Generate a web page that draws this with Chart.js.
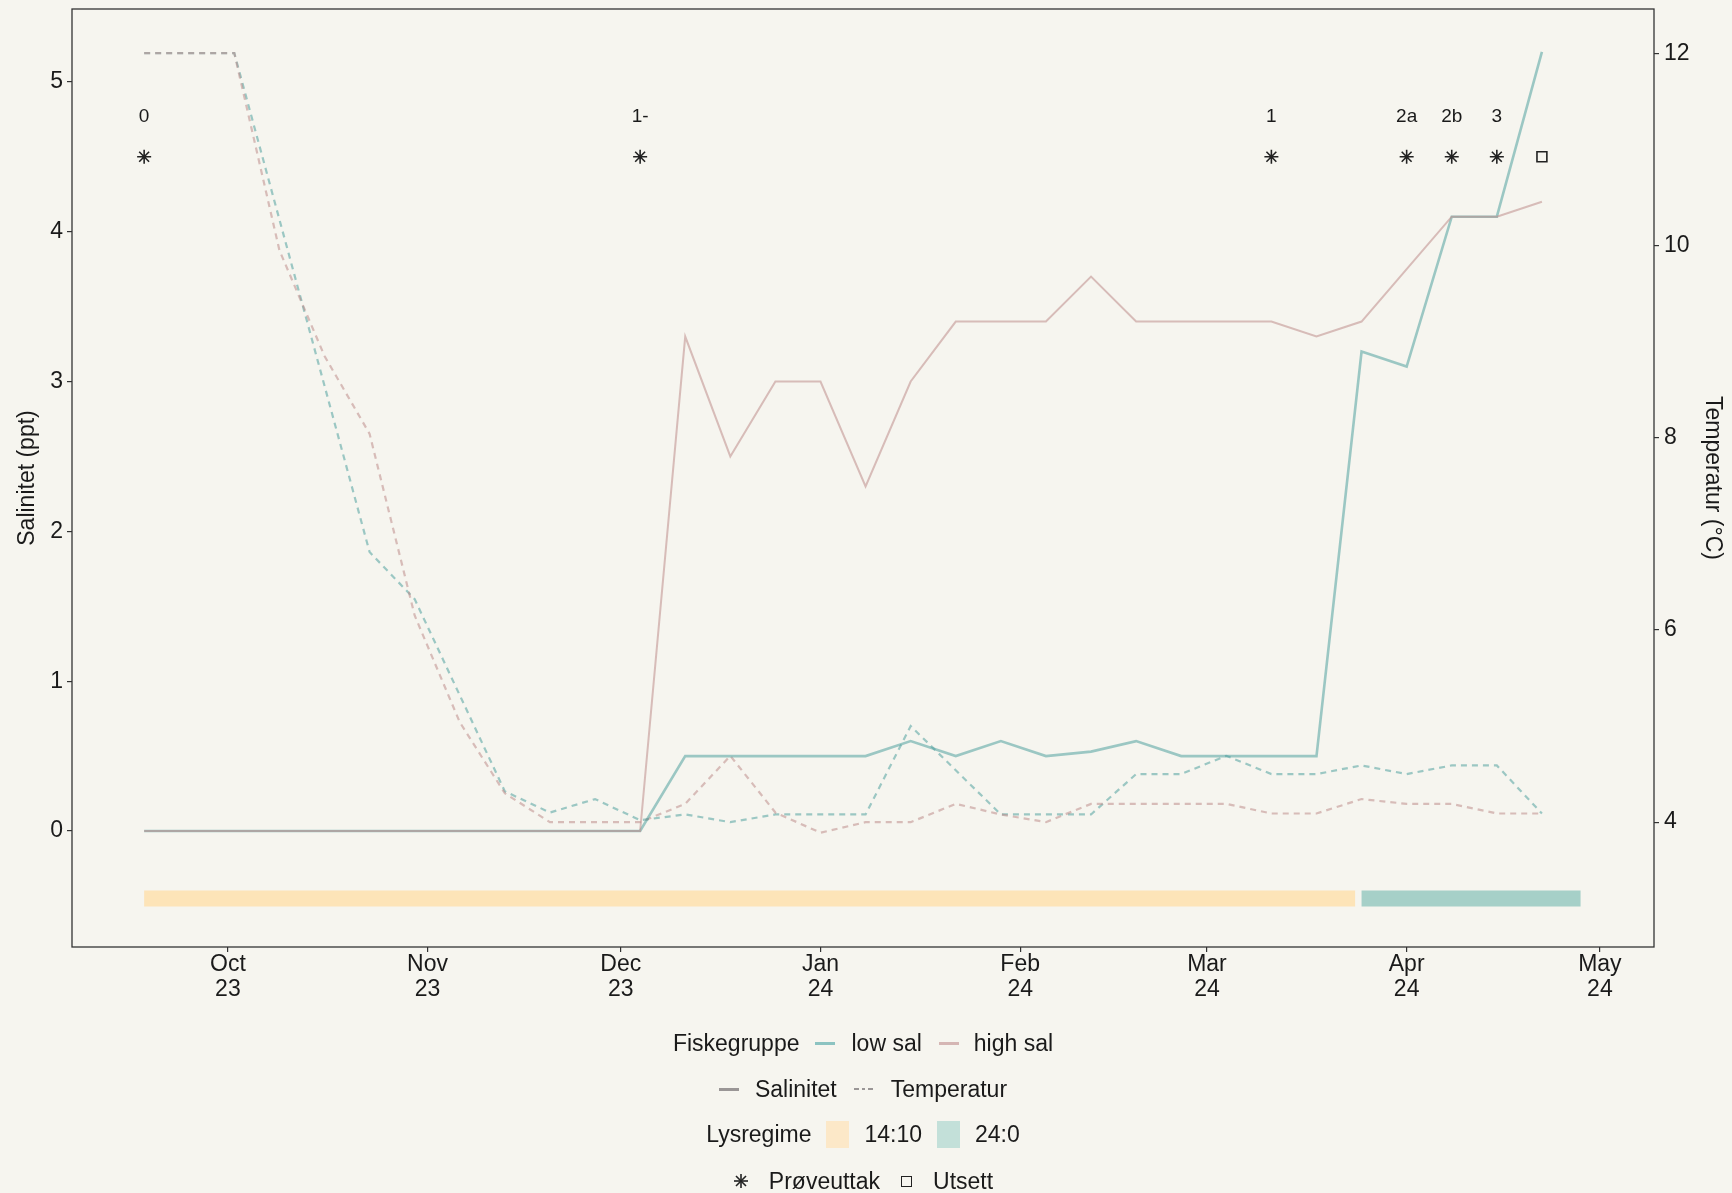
<!DOCTYPE html>
<html>
<head>
<meta charset="utf-8">
<script src="https://cdn.jsdelivr.net/npm/chart.js@4.4.1/dist/chart.umd.min.js"></script>
<style>
html,body{margin:0;padding:0;background:#f6f5ef;}
#wrap{position:relative;width:1732px;height:1193px;overflow:hidden;}
#chart{position:absolute;left:0;top:0;}
.legend{position:absolute;left:-3px;width:1732px;font-family:"Liberation Sans",Arial,Helvetica,sans-serif;font-size:23px;color:#1a1a1a;}
.row{position:absolute;left:0;width:100%;height:30px;line-height:30px;display:flex;justify-content:center;align-items:center;white-space:nowrap;}
.ln{display:inline-block;width:20px;height:3px;}
.box{display:inline-block;width:23px;height:27px;}
.sq{display:inline-block;width:9px;height:9px;border:1.6px solid #222;}
</style>
</head>
<body>
<div id="wrap">
<canvas id="chart" width="1732" height="1193"></canvas>
<div class="legend">
  <div class="row" style="top:1028px">
    <span style="margin-right:16px">Fiskegruppe</span>
    <span class="ln" style="background:#8cc3c1;margin-right:16px"></span>
    <span style="margin-right:17px">low sal</span>
    <span class="ln" style="background:#d5b6b4;margin-right:15px"></span>
    <span>high sal</span>
  </div>
  <div class="row" style="top:1074px">
    <span class="ln" style="background:#9a9696;margin-right:16px"></span>
    <span style="margin-right:17px">Salinitet</span>
    <svg width="21" height="6" style="margin-right:16px"><line x1="0" y1="3" x2="21" y2="3" stroke="#9a9696" stroke-width="2.2" stroke-dasharray="5,3,3,3"/></svg>
    <span>Temperatur</span>
  </div>
  <div class="row" style="top:1119px">
    <span style="margin-right:15px">Lysregime</span>
    <span class="box" style="background:#fce8c8;margin-right:15px"></span>
    <span style="margin-right:15px">14:10</span>
    <span class="box" style="background:#c3e0d9;margin-right:15px"></span>
    <span>24:0</span>
  </div>
  <div class="row" style="top:1166px">
    <svg width="16" height="16" style="margin-right:20px"><g stroke="#222" stroke-width="1.6"><line x1="8" y1="1" x2="8" y2="15"/><line x1="1" y1="8" x2="15" y2="8"/><line x1="3" y1="3" x2="13" y2="13"/><line x1="13" y1="3" x2="3" y2="13"/></g></svg>
    <span style="margin-right:21px">Prøveuttak</span>
    <span class="sq" style="margin-right:21px"></span>
    <span>Utsett</span>
  </div>
</div>
</div>
<script>
// ---- data ----
const weekDates = ['2023-09-18','2023-09-25','2023-10-02','2023-10-09','2023-10-16','2023-10-23','2023-10-30',
  '2023-11-06','2023-11-13','2023-11-20','2023-11-27','2023-12-04','2023-12-11','2023-12-18','2023-12-25',
  '2024-01-01','2024-01-08','2024-01-15','2024-01-22','2024-01-29','2024-02-05','2024-02-12','2024-02-19',
  '2024-02-26','2024-03-04','2024-03-11','2024-03-18','2024-03-25','2024-04-01','2024-04-08','2024-04-15','2024-04-22'];
const salLow  = [0,0,0,0,0,0,0,0,0,0,0,0, 0.5,0.5,0.5,0.5,0.5,0.6,0.5,0.6,0.5,0.53,0.6,0.5,0.5,0.5,0.5, 3.2,3.1,4.1,4.1,5.2];
const salHigh = [0,0,0,0,0,0,0,0,0,0,0,0, 3.3,2.5,3.0,3.0,2.3,3.0,3.4,3.4,3.4,3.7,3.4,3.4,3.4,3.4,3.3,3.4,3.75,4.1,4.1,4.2];
const tempLow  = [12,12,12,10.27,8.54,6.81,6.32,5.32,4.32,4.10,4.24,4.02,4.08,4.00,4.08,4.08,4.08,5.00,4.54,4.08,
  4.08,4.08,4.50,4.50,4.69,4.50,4.50,4.59,4.50,4.59,4.59,4.09];
const tempHigh = [12,12,12,9.95,8.85,8.04,6.15,5.04,4.30,4.00,4.00,4.00,4.19,4.69,4.10,3.89,4.00,4.00,4.19,4.08,
  4.00,4.19,4.19,4.19,4.19,4.09,4.09,4.24,4.19,4.19,4.09,4.09];
const sampleDates  = ['2023-09-18','2023-12-04','2024-03-11','2024-04-01','2024-04-08','2024-04-15'];
const sampleLabels = ['0','1-','1','2a','2b','3'];
const releaseDates = ['2024-04-22'];
const lightRegimes = ['14:10','24:0'];
const lightStart   = ['2023-09-18','2024-03-25'];
const lightEnd     = ['2024-03-24','2024-04-28'];
const monthTicks  = ['2023-10-01','2023-11-01','2023-12-01','2024-01-01','2024-02-01','2024-03-01','2024-04-01','2024-05-01'];
const monthLabels = [['Oct','23'],['Nov','23'],['Dec','23'],['Jan','24'],['Feb','24'],['Mar','24'],['Apr','24'],['May','24']];
const salTicks  = [0,1,2,3,4,5];
const tempTicks = [4,6,8,10,12];

// ---- helpers / styles ----
const toDay = s => (Date.parse(s + 'T00:00:00Z') - Date.parse('2023-10-01T00:00:00Z')) / 864e5;
const markerLevel = 4.5, labelLevel = 4.766, barLevel = -0.45;
const TEAL = 'rgba(80,160,158,0.55)', PINK = 'rgba(190,140,138,0.55)';
const FONT = '"Liberation Sans", Arial, Helvetica, sans-serif';
const INK = '#1a1a1a';
const series = arr => arr.map((v, i) => ({x: toDay(weekDates[i]), y: v}));

const sampleLabelPlugin = {
  id: 'sampleLabels',
  afterDatasetsDraw(chart) {
    const meta = chart.getDatasetMeta(0);
    const ys = chart.scales.ySal;
    const ctx = chart.ctx;
    ctx.save();
    ctx.font = '19px ' + FONT;
    ctx.fillStyle = INK;
    ctx.textAlign = 'center';
    ctx.textBaseline = 'middle';
    meta.data.forEach((pt, i) => ctx.fillText(sampleLabels[i], pt.x, ys.getPixelForValue(labelLevel)));
    ctx.restore();
  }
};
const framePlugin = {
  id: 'frame',
  afterDraw(chart) {
    const a = chart.chartArea, ctx = chart.ctx;
    ctx.save();
    ctx.strokeStyle = '#333';
    ctx.lineWidth = 1.3;
    ctx.strokeRect(a.left, a.top, a.right - a.left, a.bottom - a.top);
    ctx.restore();
  }
};

const datasets = [
  {label:'Prøveuttak', data: sampleDates.map(d => ({x: toDay(d), y: markerLevel})), showLine:false,
   pointStyle:'star', pointRadius:7, pointBorderWidth:1.6, pointBorderColor:'#222', pointBackgroundColor:'#222', yAxisID:'ySal'},
  {label:'Utsett', data: releaseDates.map(d => ({x: toDay(d), y: markerLevel})), showLine:false,
   pointStyle:'rect', pointRadius:7, pointBorderWidth:1.6, pointBorderColor:'#222', pointBackgroundColor:'rgba(0,0,0,0)', yAxisID:'ySal'},
  {label:'high sal Salinitet', data: series(salHigh), borderColor: PINK, borderWidth:2, pointRadius:0, yAxisID:'ySal'},
  {label:'low sal Salinitet', data: series(salLow), borderColor: TEAL, borderWidth:2.6, pointRadius:0, yAxisID:'ySal'},
  {label:'high sal Temperatur', data: series(tempHigh), borderColor: PINK, borderWidth:2.2, borderDash:[6,5], pointRadius:0, yAxisID:'yTemp'},
  {label:'low sal Temperatur', data: series(tempLow), borderColor: TEAL, borderWidth:2.2, borderDash:[6,5], pointRadius:0, yAxisID:'yTemp'},
  {label:'Lysregime ' + lightRegimes[0], data:[{x: toDay(lightStart[0]), y: barLevel},{x: toDay(lightEnd[0]), y: barLevel}],
   borderColor:'#fde4b8', borderWidth:16, borderCapStyle:'butt', pointRadius:0, yAxisID:'ySal'},
  {label:'Lysregime ' + lightRegimes[1], data:[{x: toDay(lightStart[1]), y: barLevel},{x: toDay(lightEnd[1]), y: barLevel}],
   borderColor:'#a6d0c8', borderWidth:16, borderCapStyle:'butt', pointRadius:0, yAxisID:'ySal'}
];

const noPad = s => { s.paddingTop = 0; s.paddingBottom = 0; s.paddingLeft = 0; s.paddingRight = 0; };

new Chart(document.getElementById('chart'), {
  type: 'line',
  data: {datasets},
  plugins: [sampleLabelPlugin, framePlugin],
  options: {
    responsive:false, animation:false, devicePixelRatio:1,
    parsing:false, normalized:true,
    layout:{padding:{top:9, bottom:166, left:0, right:0}},
    plugins:{legend:{display:false}, tooltip:{enabled:false}},
    elements:{line:{tension:0}},
    scales:{
      x:{type:'linear', min:-24.2, max:221.4,
        afterBuildTicks: s => { s.ticks = monthTicks.map(d => ({value: toDay(d)})); },
        afterFit: s => { s.height = 80; noPad(s); },
        grid:{display:true, drawOnChartArea:false, drawTicks:true, tickLength:5, color:'#333', lineWidth:1.2},
        border:{display:false},
        ticks:{autoSkip:false, maxRotation:0, padding:0, color:INK, font:{family:FONT, size:23, lineHeight:1.09},
          callback:(v, i) => monthLabels[i]}
      },
      ySal:{type:'linear', position:'left', min:-0.774, max:5.486,
        afterBuildTicks: s => { s.ticks = salTicks.map(v => ({value:v})); },
        afterFit: s => { s.width = 72; noPad(s); },
        grid:{display:true, drawOnChartArea:false, drawTicks:true, tickLength:5, color:'#333', lineWidth:1.2},
        border:{display:false},
        ticks:{padding:4, color:INK, font:{family:FONT, size:23}},
        title:{display:true, text:'Salinitet (ppt)', color:INK, font:{family:FONT, size:23}, padding:{top:14, bottom:0}}
      },
      yTemp:{type:'linear', position:'right', min:2.701, max:12.460,
        afterBuildTicks: s => { s.ticks = tempTicks.map(v => ({value:v})); },
        afterFit: s => { s.width = 78; noPad(s); },
        grid:{display:true, drawOnChartArea:false, drawTicks:true, tickLength:5, color:'#333', lineWidth:1.2},
        border:{display:false},
        ticks:{padding:5, color:INK, font:{family:FONT, size:23}},
        title:{display:true, text:'Temperatur (°C)', color:INK, font:{family:FONT, size:23}, padding:{top:6, bottom:0}}
      }
    }
  }
});
</script>
</body>
</html>
